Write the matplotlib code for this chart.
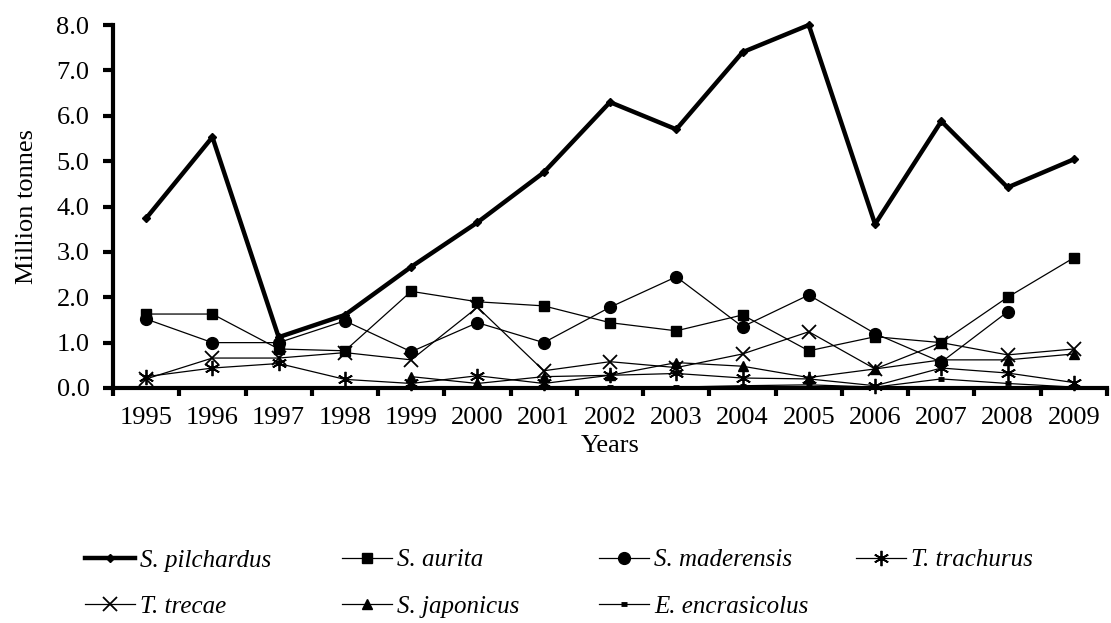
import numpy as np
import matplotlib

matplotlib.use("Agg")
import matplotlib.pyplot as plt

nan = np.nan

years = ["1995", "1996", "1997", "1998", "1999", "2000", "2001", "2002",
         "2003", "2004", "2005", "2006", "2007", "2008", "2009"]

s_pilchardus = [3.74, 5.53, 1.12, 1.61, 2.67, 3.65, 4.75, 6.30, 5.70, 7.40, 8.00, 3.61, 5.88, 4.42, 5.04]
s_aurita = [1.63, 1.63, 0.86, 0.82, 2.13, 1.90, 1.81, 1.44, 1.26, 1.61, 0.82, 1.13, 1.00, 2.00, 2.87]
s_maderensis = [1.52, 1.00, 1.00, 1.48, 0.80, 1.44, 1.00, 1.78, 2.45, 1.35, 2.05, 1.20, 0.57, 1.68, nan]
t_trachurus = [0.25, 0.44, 0.54, 0.19, 0.10, 0.27, 0.10, 0.28, 0.32, 0.22, 0.20, 0.05, 0.44, 0.33, 0.12]
t_trecae = [0.20, 0.66, 0.66, 0.78, 0.62, 1.78, 0.38, 0.58, 0.45, 0.75, 1.24, 0.42, 1.00, 0.73, 0.86]
s_japonicus = [nan, nan, nan, nan, 0.25, 0.10, 0.25, 0.28, 0.56, 0.48, 0.23, 0.42, 0.62, 0.62, 0.75]
e_encrasicolus = [nan, nan, nan, nan, nan, nan, nan, 0.02, 0.02, 0.05, 0.07, 0.02, 0.20, 0.10, 0.02]

yticks = [0, 1, 2, 3, 4, 5, 6, 7, 8]

plt.rcParams["font.family"] = ["Liberation Serif", "DejaVu Serif"]
plt.rcParams["font.size"] = 19

fig = plt.figure(figsize=(11.11, 6.23), dpi=100)
ax = fig.add_axes([113 / 1111, 1 - 388 / 623, (1107 - 113) / 1111, (388 - 25) / 623])

x = np.arange(len(years))
series = [
    ("S. pilchardus", s_pilchardus, dict(lw=3.2, marker="D", ms=4.5)),
    ("S. aurita", s_aurita, dict(lw=0.9, marker="s", ms=7)),
    ("S. maderensis", s_maderensis, dict(lw=0.9, marker="o", ms=8.5)),
    ("T. trachurus", t_trachurus, dict(lw=0.9, marker=(6, 2, 0), ms=11, mew=1.3)),
    ("T. trecae", t_trecae, dict(lw=0.9, marker="x", ms=10, mew=1.3)),
    ("S. japonicus", s_japonicus, dict(lw=0.9, marker="^", ms=7)),
    ("E. encrasicolus", e_encrasicolus, dict(lw=0.9, marker="_", ms=5, mew=3.5)),
]

handles = []
for name, vals, style in series:
    (ln,) = ax.plot(x, vals, color="black", mfc="black", mec="black", clip_on=False, **style)
    handles.append(ln)

ax.set_xlim(-0.5, len(years) - 0.5)
ax.set_ylim(0, 8)
ax.set_yticks(yticks)
ax.set_yticklabels([f"{v:.1f}" for v in yticks])
ax.set_xticks(np.arange(-0.5, len(years), 1.0))
ax.set_xticklabels([])
ax.set_xticks(x, minor=True)
ax.set_xticklabels(years, minor=True)
ax.tick_params(axis="x", which="minor", length=0, pad=14)
ax.tick_params(axis="x", which="major", length=6, width=3, direction="out")
ax.tick_params(axis="y", length=7, width=3, direction="out", pad=10)

for side in ["top", "right"]:
    ax.spines[side].set_visible(False)
for side in ["left", "bottom"]:
    ax.spines[side].set_linewidth(3)

ax.set_ylabel("Million tonnes", labelpad=13)
ax.set_xlabel("Years", labelpad=4)

# legend laid out as four single-column blocks
cols = [[0, 4], [1, 5], [2, 6], [3]]
col_x = [85, 342, 599, 856]
for idx, cx in zip(cols, col_x):
    fig.legend([handles[i] for i in idx], [series[i][0] for i in idx],
               loc="upper left", bbox_to_anchor=(cx / 1111, 1 - 549 / 623),
               frameon=False, handlelength=2.0, handletextpad=0.2,
               labelspacing=0.95, borderpad=0, borderaxespad=0,
               prop={"style": "italic", "size": 18})

fig.savefig("out.png", dpi=100)
